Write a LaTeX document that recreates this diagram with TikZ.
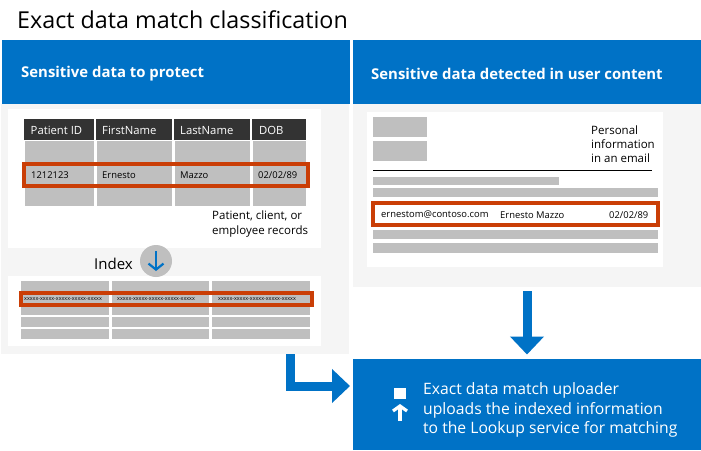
\documentclass[tikz,border=0pt]{standalone}
\usepackage{fontspec}
\setmainfont{Open Sans}
\usepackage{xcolor}
\usetikzlibrary{arrows.meta,positioning,calc}
\definecolor{edmblue}{RGB}{0,114,198}
\definecolor{edmpanel}{RGB}{245,245,245}
\definecolor{edmcell}{RGB}{191,191,191}
\definecolor{edmdark}{RGB}{51,51,51}
\definecolor{edmred}{RGB}{202,62,6}
\newcommand{\edmsize}[1]{\fontsize{#1}{#1}\selectfont}
\tikzset{
	txt/.style={inner sep=0pt, anchor=west, font=\edmsize{9.4}},
	note/.style={inner sep=0pt, anchor=north west, align=left, font=\edmsize{11.5}, text depth=0pt},
	headtxt/.style={inner sep=0pt, anchor=west, font=\edmsize{14.9}\bfseries, text=white},
	panel/.style={inner sep=0pt, fill=#1, anchor=north west},
	redbox/.style={draw=edmred, line width=#1},
	bigarrow/.style={draw=edmblue, line width=9pt, -{Triangle[width=33pt,length=18pt]}},
}
\begin{document}
\begin{tikzpicture}[x=1pt,y=-1pt]
	\useasboundingbox[fill=white] (0,0) rectangle (701,450);
	\node[inner sep=0pt, anchor=west, font=\edmsize{23.3}] (title) at (17,20) {Exact data match classification};
	% headers and panels
	\node[panel=edmblue, minimum width=348pt, minimum height=64pt] (lefthead) at (2,40) {};
	\node[panel=edmblue, minimum width=348pt, minimum height=64pt] (righthead) at (353,40) {};
	\node[headtxt] (lefttitle) at (21,73.5) {Sensitive data to protect};
	\node[headtxt] (righttitle) at (371,73.5) {Sensitive data detected in user content};
	\node[panel=edmpanel, minimum width=348pt, minimum height=250pt] (leftpanel) at (1,104) {};
	\node[panel=edmpanel, minimum width=348pt, minimum height=183pt] (rightpanel) at (353,104) {};
	\fill[white] (8,109) rectangle (321,248);
	\fill[white] (8,276) rectangle (321,346);
	\fill[white] (367,112) rectangle (663,267);
	% record table
	\foreach \a/\b in {24/94,96/172,174/250,252/306} {
		\fill[edmdark] (\a,119) rectangle (\b,140);
		\fill[edmcell] (\a+1,141) rectangle (\b,206);
	}
	\node[txt, text=white, font=\edmsize{11.3}] (hid) at (30.5,130.5) {Patient ID};
	\node[txt, text=white, font=\edmsize{11.3}] (hfirst) at (102,130.5) {FirstName};
	\node[txt, text=white, font=\edmsize{11.3}] (hlast) at (180,130.5) {LastName};
	\node[txt, text=white, font=\edmsize{11.3}] (hdob) at (259,130.5) {DOB};
	\node[txt] (cid) at (31,175) {1212123};
	\node[txt] (cfirst) at (102,175) {Ernesto};
	\node[txt] (clast) at (180,175) {Mazzo};
	\node[txt] (cdob) at (258,175) {02/02/89};
	\draw[redbox=4pt] (24,164) rectangle (308,186);
	\node[note] (records) at (212,211) {Patient, client, or\\[3.4pt]employee records};
	% index
	\node[inner sep=0pt, anchor=west, font=\edmsize{15}] (indexlabel) at (94,264) {Index};
	\node[circle, fill=edmcell, inner sep=0pt, minimum size=32pt] (indexdot) at (156,261) {};
	\draw[edmblue, line width=2.2pt, -{Straight Barb[length=6pt,width=15pt]}] ($(indexdot)+(0,-10)$) -- ($(indexdot)+(0,10)$);
	\foreach \a/\b in {21/109,112/209,212/310} {
		\fill[edmcell] (\a,281) rectangle (\b,315);
		\fill[edmcell] (\a,317) rectangle (\b,327);
		\fill[edmcell] (\a,329) rectangle (\b,339);
	}
	\draw[redbox=4pt] (21,293) rectangle (312,305);
	\foreach \x/\n in {24/ia,117/ib,218/ic}
		\node[txt, font=\edmsize{5.4}] (\n) at (\x,299.3) {xxxxx-xxxxx-xxxxx-xxxxx-xxxxx};
	% email
	\fill[edmcell] (373,117) rectangle (427,137);
	\fill[edmcell] (373,141) rectangle (427,161);
	\node[note] (email) at (591,125.5) {Personal\\[2.6pt]information\\[2.6pt]in an email};
	\draw[black, line width=0.8pt] (373,170.5) -- (652,170.5);
	\fill[edmcell] (373,177) rectangle (559,185);
	\foreach \a/\b in {188/197,230/239,243/253}
		\fill[edmcell] (373,\a) rectangle (658,\b);
	\draw[redbox=4pt] (373,203) rectangle (658,225);
	\node[txt] (mail) at (381,215) {ernestom@contoso.com};
	\node[txt] (who) at (500,215) {Ernesto Mazzo};
	\node[txt] (born) at (609,215) {02/02/89};
	% uploader
	\node[panel=edmblue, minimum width=348pt, minimum height=91pt] (uploader) at (353,359) {};
	\node[inner sep=0pt, fill=white, minimum size=11.5pt] (uploadsquare) at (400,393.5) {};
	\coordinate (uploadfoot) at (400,421);
	\coordinate (uploadtop) at (400,404);
	\draw[white, line width=3.2pt, -{Straight Barb[length=5pt,width=14pt]}] (uploadfoot) -- (uploadtop);
	\node[inner sep=0pt, anchor=north west, align=left, text=white, font=\edmsize{15.7}] (uploadtxt) at (423,382.5) {Exact data match uploader\\[2.6pt]uploads the indexed information\\[2.6pt]to the Lookup service for matching};
	% big arrows
	\coordinate (leftfoot) at (290.5,354);
	\coordinate (lefttip) at (350,386);
	\draw[bigarrow, line join=miter] (leftfoot) |- (lefttip);
	\coordinate (righttop) at (527,291);
	\coordinate (rightstop) at (527,354.5);
	\draw[bigarrow] (righttop) -- (rightstop);
\end{tikzpicture}
\end{document}
